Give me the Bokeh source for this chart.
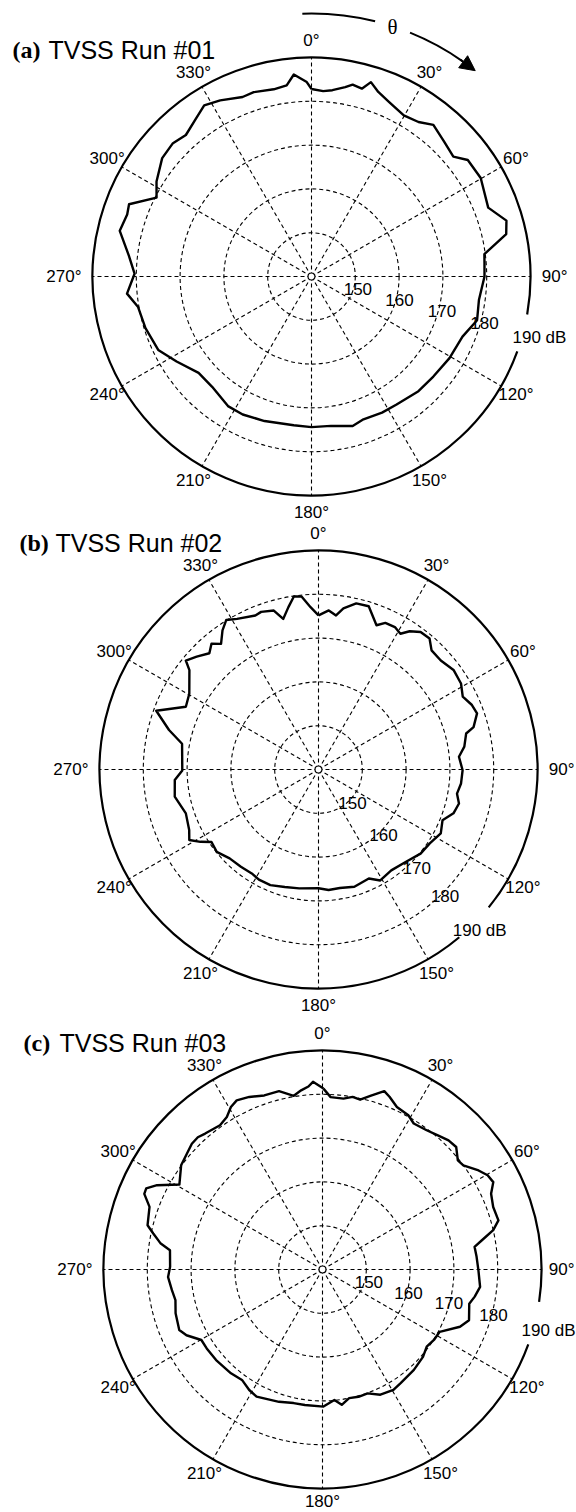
import numpy as np
from bokeh.plotting import figure
from bokeh.models import Range1d, Arrow, NormalHead
from bokeh.core.properties import value
from bokeh.embed import file_html
from bokeh.resources import INLINE

# ---------------- data (angle clockwise from 0 deg at top, level in dB) ----------------
theta_run01 = [0, 3.6, 6.4, 10.1, 12.1, 15, 17, 19.9, 24, 29.8, 34.7, 38.8, 44.5, 49.8, 53.3, 59.8,
               68.7, 74, 77.7, 82.6, 85.8, 90, 98, 104.8, 111.7, 120.6, 129.4, 137, 146.4, 152.6,
               160, 164.6, 172.6, 180, 186.8, 198, 206.5, 212.8, 222, 229.5, 237.8, 244.4, 252.7,
               260, 264.7, 270.9, 276.6, 283.4, 288.6, 291.6, 297, 301.5, 308.4, 313.9, 318.4,
               323.3, 327.9, 332.6, 339, 342.6, 348.6, 352.6, 355, 358.6]
db_run01 = [182.8, 182.4, 182.8, 183.9, 184.8, 184.4, 186.4, 184.8, 183.6, 182.4, 182.9, 184.4,
            183.2, 182.4, 184.5, 184.7, 183.3, 186.3, 185.5, 179.8, 179.6, 179.5, 178.6, 179.1,
            177.1, 176.6, 176.0, 175.8, 175.1, 175.0, 174.7, 175.4, 174.4, 174.4, 174.2, 174.7,
            175.2, 175.2, 173.9, 173.9, 176.4, 178.8, 179.7, 180.2, 182.3, 180.4, 182.0, 185.0,
            184.4, 184.8, 179.7, 181.5, 183.5, 183.9, 183.2, 184.5, 186.1, 185.3, 183.9, 184.1,
            183.6, 184.0, 186.3, 184.4]

theta_run02 = [0, 3.7, 6.5, 8.8, 12.8, 17.1, 21.9, 24.5, 28.2, 31.1, 33.4, 36.6, 40.3, 43.5, 48.3,
               53.6, 58.9, 63.2, 67.2, 70.5, 74.7, 76.3, 81.1, 84.8, 90.3, 95.6, 99.9, 103.6, 108,
               112.3, 117.6, 123.6, 129.5, 136.7, 144.2, 150.9, 155.2, 163, 169.8, 175.2, 180,
               189.2, 196, 202.6, 208.4, 212.7, 218.6, 225, 231, 235.9, 238.5, 241.4, 244.9, 251.7,
               259.3, 265.8, 269.6, 280.7, 284.8, 289.9, 295.3, 300.4, 307.6, 309.4, 312.8, 316.8,
               319.6, 322.2, 325.4, 328.3, 331.6, 337.7, 340, 344.3, 346.8, 349.5, 351.9, 354.4,
               357.2]
db_run02 = [175.2, 176.4, 175.4, 177.2, 178.9, 179.0, 175.5, 176.8, 176.9, 176.2, 177.8, 179.1,
            179.2, 177.5, 177.4, 178.3, 178.0, 176.9, 178.0, 178.4, 176.7, 174.7, 173.7, 172.2,
            172.9, 172.7, 172.1, 173.0, 172.4, 170.6, 171.5, 170.5, 170.2, 169.0, 168.4, 169.0,
            167.4, 168.0, 167.5, 167.6, 167.1, 167.5, 167.9, 168.6, 168.6, 168.2, 168.4, 168.7,
            169.9, 169.5, 171.6, 173.6, 172.6, 171.9, 173.4, 172.9, 171.1, 171.7, 175.3, 179.4,
            173.5, 174.2, 177.2, 179.2, 177.9, 176.4, 177.7, 176.3, 178.6, 180.1, 179.1, 178.0,
            178.3, 177.7, 175.3, 177.7, 179.9, 179.7, 177.1]

theta_run03 = [0.3, 2.7, 7.0, 9.9, 12.5, 15.6, 19.1, 21.2, 24.6, 29.1, 32, 36.8, 40.7, 44.3, 47.5,
               51.1, 53.5, 57.6, 60.3, 62.9, 65.8, 69.9, 74.4, 77, 79.6, 81.5, 85.3, 90.3, 96.3,
               100.1, 103.1, 109.1, 112.6, 118, 122.3, 126.5, 131, 137.7, 145.5, 149.5, 155.2,
               160, 164.2, 168.3, 171.9, 174.8, 179.6, 187.4, 192.2, 198.2, 207.4, 211.3, 216.1,
               221.4, 229.6, 235.7, 239.8, 244.2, 247.1, 253.4, 258.2, 262.2, 267.2, 271, 277.2,
               279.1, 282, 284.2, 289.9, 293, 294.7, 297, 300.7, 306.4, 310.4, 313.9, 316.7,
               319.2, 324.6, 327.9, 330.6, 333.1, 337, 341.5, 346.3, 350.6, 353.2, 355.6, 357.1]
db_run03 = [181.3, 179.4, 179.3, 180.0, 179.7, 181.2, 183.1, 182.3, 180.8, 180.3, 179.3, 179.7,
            180.4, 181.2, 181.4, 179.7, 180.0, 182.2, 183.4, 183.8, 182.2, 181.5, 181.7, 180.0,
            177.0, 175.1, 175.3, 175.6, 176.2, 175.3, 174.4, 175.4, 174.0, 170.3, 170.1, 169.6,
            170.4, 171.0, 171.5, 171.9, 171.5, 170.1, 170.2, 170.0, 171.2, 169.9, 171.3, 171.2,
            171.2, 171.8, 172.7, 172.2, 171.2, 171.6, 171.9, 172.0, 172.0, 174.5, 175.5, 175.0,
            174.3, 174.7, 175.3, 174.8, 175.1, 177.4, 179.5, 181.2, 182.0, 184.2, 184.3, 182.4,
            178.0, 180.1, 180.7, 181.4, 181.5, 181.0, 180.4, 181.1, 182.6, 183.3, 182.8, 181.9,
            181.9, 180.2, 181.2, 181.9, 182.9]

ring_levels = [150, 160, 170, 180]
outer_level = 190
center_level = 140
spoke_angles = list(range(0, 360, 30))
angle_labels = ["0°", "30°", "60°", "90°", "120°", "150°", "180°", "210°", "240°", "270°", "300°", "330°"]
range_labels = ["150", "160", "170", "180", "190 dB"]
panel_letters = ["(a)", "(b)", "(c)"]
panel_titles = ["TVSS Run #01", "TVSS Run #02", "TVSS Run #03"]

# ---------------- layout ----------------
W, H = 576, 1512
R_PX = 219.0
S = R_PX / (outer_level - center_level)      # px per dB

p = figure(width=W, height=H, x_range=Range1d(0, W / S), y_range=Range1d(-H / S, 0),
           output_backend="svg", toolbar_location=None, min_border=0,
           x_axis_type=None, y_axis_type=None)
p.grid.visible = False
p.outline_line_color = None
p.background_fill_color = "white"

def u(px):
    return px / S

def page(xp, yp):
    return xp / S, -yp / S

SANS = value("Liberation Sans")
SERIF = value("Liberation Serif")
LABEL_SIZE = "17px"
LABEL_90_W = 26  # approx. rendered width of "90°" in px

panels = [
    dict(center=(311, 276), thetas=theta_run01, dbs=db_run01, lab_ang=105,
         lab_d=[48, 91, 135, 179, 236], gap=(100, 110), arrow=True),
    dict(center=(318, 769), thetas=theta_run02, dbs=db_run02, lab_ang=135,
         lab_d=[48, 92, 139, 179, 228], gap=(129, 140), arrow=False),
    dict(center=(322, 1269), thetas=theta_run03, dbs=db_run03, lab_ang=105,
         lab_d=[48, 89, 131, 177, 234], gap=(98.5, 110), arrow=False),
]

def pol(cx, cy, r, th):
    t = np.radians(th)
    return cx + r * np.sin(t), cy + r * np.cos(t)

DASH = "4 3"
for i, pn in enumerate(panels):
    cx, cy = page(*pn["center"])
    rout = outer_level - center_level
    # dashed rings
    p.circle(x=[cx] * len(ring_levels), y=[cy] * len(ring_levels),
             radius=[lv - center_level for lv in ring_levels],
             fill_color=None, line_color="black", line_width=1.1, line_dash=DASH)
    # spokes
    x1, y1 = pol(cx, cy, rout, np.array(spoke_angles, dtype=float))
    p.segment(x0=[cx] * len(spoke_angles), y0=[cy] * len(spoke_angles), x1=x1, y1=y1,
              line_color="black", line_width=1.1, line_dash=DASH)
    # outer circle with a gap for the range label
    g0, g1 = pn["gap"]
    p.arc(x=cx, y=cy, radius=rout, start_angle=np.radians(90 - g0),
          end_angle=np.radians(90 - g1 + 360), direction="anticlock",
          line_color="black", line_width=2.2)
    # data curve
    th = np.array(pn["thetas"] + [pn["thetas"][0]], dtype=float)
    rr = np.array(pn["dbs"] + [pn["dbs"][0]], dtype=float) - center_level
    xs, ys = pol(cx, cy, rr, th)
    p.line(xs, ys, line_color="black", line_width=2.4, line_join="round")
    # centre marker
    p.scatter([cx], [cy], size=7, marker="circle", fill_color="white", line_color="black", line_width=1.2)
    # angle labels (centred, except 90/270 which hug the circle)
    for ang, lab in zip(spoke_angles, angle_labels):
        if ang == 90:
            lx, ly = pol(cx, cy, u(R_PX + 11 + LABEL_90_W), ang)
            lx = min(lx, u(W - 2))       # keep it inside the page
            align = "right"
        elif ang == 270:
            lx, ly = pol(cx, cy, u(R_PX + 11), ang)
            align = "right"
        else:
            lx, ly = pol(cx, cy, u(236), ang)
            align = "center"
        ly = max(ly, -u(H - 11))   # keep the lowest label inside the page
        p.text(x=[lx], y=[ly], text=[lab], text_align=align, text_baseline="middle",
               text_font=SANS, text_font_size=LABEL_SIZE, text_color="black")
    # range labels
    rx, ry = pol(cx, cy, np.array([u(d) for d in pn["lab_d"]]), np.full(5, float(pn["lab_ang"])))
    p.text(x=rx, y=ry, text=range_labels, text_align="center", text_baseline="middle",
           text_font=SANS, text_font_size=LABEL_SIZE, text_color="black")
    # title
    tx, ty = page(pn["center"][0] - 299, pn["center"][1] - 227)
    p.text(x=[tx], y=[ty], text=[panel_letters[i]], text_align="left", text_baseline="alphabetic",
           text_font=SERIF, text_font_style="bold", text_font_size="24px", text_color="black")
    tx2, _ = page(pn["center"][0] - 263, 0)
    p.text(x=[tx2], y=[ty], text=[panel_titles[i]], text_align="left", text_baseline="alphabetic",
           text_font=SANS, text_font_size="25px", text_color="black")
    # theta direction arrow
    if pn["arrow"]:
        ra = u(263)
        p.arc(x=cx, y=cy, radius=ra, start_angle=np.radians(90 + 2), end_angle=np.radians(90 - 14),
              direction="clock", line_color="black", line_width=2)
        p.arc(x=cx, y=cy, radius=ra, start_angle=np.radians(90 - 22), end_angle=np.radians(90 - 35),
              direction="clock", line_color="black", line_width=2)
        ax0, ay0 = pol(cx, cy, ra, 34.5)
        ax1, ay1 = pol(cx, cy, ra, 38.5)
        p.add_layout(Arrow(end=NormalHead(size=15, fill_color="black", line_color="black"),
                           x_start=ax0, y_start=ay0, x_end=ax1, y_end=ay1,
                           line_color="black", line_width=2))
        tlx, tly = pol(cx, cy, u(262), 18)
        p.text(x=[tlx], y=[tly], text=["θ"], text_align="center", text_baseline="middle",
               text_font=SERIF, text_font_size="21px", text_color="black")

open("out.html", "w").write(file_html(p, INLINE))
